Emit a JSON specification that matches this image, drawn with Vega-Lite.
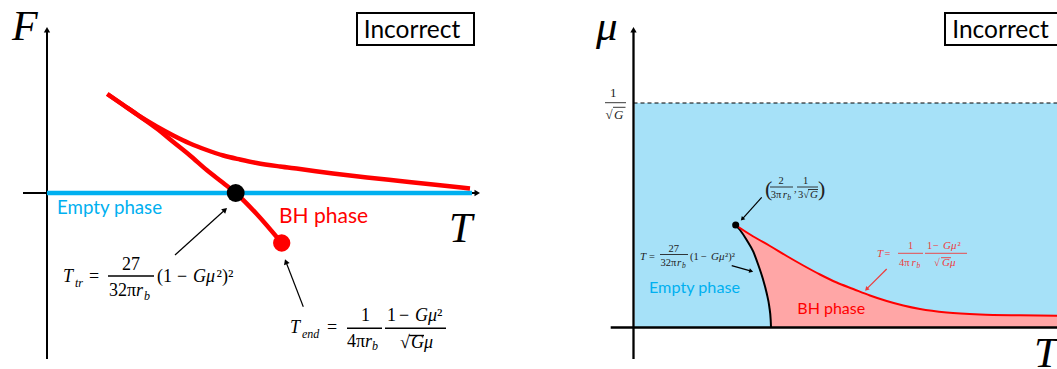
{
  "$schema": "https://vega.github.io/schema/vega-lite/v6.json",
  "padding": 0,
  "background": "white",
  "spacing": 0,
  "bounds": "flush",
  "config": {"view": {"stroke": null}},
  "datasets": {
    "L_axes": [
      {"x": 0, "y": -3.32, "x2": 0, "y2": 3.26},
      {"x": -0.48, "y": 0, "x2": 8.56, "y2": 0}
    ],
    "L_headUp": [{"x": 0, "y": 3.265}],
    "L_headRight": [{"x": 8.605, "y": 0}],
    "L_blue": [{"x": 0, "y": 0, "x2": 8.5, "y2": 0}],
    "L_red": [
      {"branch": "upper", "x": 1.206, "y": 1.98},
      {"branch": "upper", "x": 1.526, "y": 1.76},
      {"branch": "upper", "x": 1.86, "y": 1.53},
      {"branch": "upper", "x": 2.194, "y": 1.33},
      {"branch": "upper", "x": 2.526, "y": 1.15},
      {"branch": "upper", "x": 2.86, "y": 0.99},
      {"branch": "upper", "x": 3.194, "y": 0.86},
      {"branch": "upper", "x": 3.526, "y": 0.75},
      {"branch": "upper", "x": 3.86, "y": 0.67},
      {"branch": "upper", "x": 4.194, "y": 0.6},
      {"branch": "upper", "x": 4.66, "y": 0.53},
      {"branch": "upper", "x": 5.06, "y": 0.48},
      {"branch": "upper", "x": 5.72, "y": 0.39},
      {"branch": "upper", "x": 6.4, "y": 0.31},
      {"branch": "upper", "x": 7.06, "y": 0.24},
      {"branch": "upper", "x": 7.72, "y": 0.17},
      {"branch": "upper", "x": 8.46, "y": 0.09},
      {"branch": "lower", "x": 1.206, "y": 1.98},
      {"branch": "lower", "x": 1.526, "y": 1.76},
      {"branch": "lower", "x": 1.86, "y": 1.53},
      {"branch": "lower", "x": 2.194, "y": 1.29},
      {"branch": "lower", "x": 2.526, "y": 1.02},
      {"branch": "lower", "x": 2.86, "y": 0.75},
      {"branch": "lower", "x": 3.194, "y": 0.46},
      {"branch": "lower", "x": 3.526, "y": 0.2},
      {"branch": "lower", "x": 3.774, "y": 0.0},
      {"branch": "lower", "x": 4.194, "y": -0.42},
      {"branch": "lower", "x": 4.694, "y": -1.0}
    ],
    "L_dotBlack": [{"x": 3.774, "y": 0}],
    "L_dotRed": [{"x": 4.694, "y": -1.0}],
    "L_arrows": [
      {"x": 2.56, "y": -1.24, "x2": 3.562, "y2": -0.334},
      {"x": 5.126, "y": -2.274, "x2": 4.778, "y2": -1.374}
    ],
    "L_head1": [{"x": 3.562, "y": -0.334}],
    "L_head2": [{"x": 4.778, "y": -1.374}],
    "L_big": [
      {"x": -0.7, "y": 3.06, "t": "F"},
      {"x": 8.04, "y": -0.98, "t": "T"}
    ],
    "L_empty": [{"x": 0.2, "y": -0.41, "t": "Empty phase"}],
    "L_bh": [{"x": 4.64, "y": -0.59, "t": "BH phase"}],
    "L_box": [{"x": 6.2, "x2": 8.54, "y": 2.96, "y2": 3.6}],
    "L_inc": [{"x": 7.3, "y": 3.11, "t": "Incorrect"}],
    "L_fIt": [
      {"x": 0.32, "y": -1.78, "t": "T"},
      {"x": 1.78, "y": -2.06, "t": "r"},
      {"x": 2.92, "y": -1.78, "t": "Gμ"},
      {"x": 4.86, "y": -2.8, "t": "T"},
      {"x": 6.36, "y": -3.07, "t": "r"},
      {"x": 7.36, "y": -2.56, "t": "Gμ"},
      {"x": 7.28, "y": -3.1, "t": "Gμ"}
    ],
    "L_fSub": [
      {"x": 0.56, "y": -1.87, "t": "tr"},
      {"x": 1.94, "y": -2.14, "t": "b"},
      {"x": 5.1, "y": -2.89, "t": "end"},
      {"x": 6.5, "y": -3.14, "t": "b"}
    ],
    "L_fUp": [
      {"x": 0.84, "y": -1.78, "t": "="},
      {"x": 1.5, "y": -1.54, "t": "27"},
      {"x": 1.24, "y": -2.06, "t": "32π"},
      {"x": 2.2, "y": -1.78, "t": "(1"},
      {"x": 2.6, "y": -1.78, "t": "−"},
      {"x": 3.39, "y": -1.78, "t": "²)²"},
      {"x": 5.6, "y": -2.8, "t": "="},
      {"x": 6.28, "y": -2.56, "t": "1"},
      {"x": 6.0, "y": -3.07, "t": "4π"},
      {"x": 6.8, "y": -2.56, "t": "1"},
      {"x": 7.04, "y": -2.56, "t": "−"},
      {"x": 7.8, "y": -2.56, "t": "²"},
      {"x": 7.06, "y": -3.1, "t": "√"}
    ],
    "L_fBars": [
      {"x": 1.22, "x2": 2.14, "y": -1.66, "y2": -1.66},
      {"x": 6.0, "x2": 6.7, "y": -2.706, "y2": -2.706},
      {"x": 6.76, "x2": 7.98, "y": -2.706, "y2": -2.706},
      {"x": 7.24, "x2": 7.54, "y": -2.85, "y2": -2.85}
    ],
    "R_blue": [{"x": 0.02, "x2": 9, "y": 0, "y2": 4.49}],
    "R_pink": [
      {"x": 2.044, "y": 2.05, "y2": 2.05},
      {"x": 2.13, "y": 1.99, "y2": 1.95},
      {"x": 2.264, "y": 1.904, "y2": 1.75},
      {"x": 2.396, "y": 1.82, "y2": 1.516},
      {"x": 2.496, "y": 1.76, "y2": 1.25},
      {"x": 2.584, "y": 1.706, "y2": 0.984},
      {"x": 2.664, "y": 1.666, "y2": 0.684},
      {"x": 2.716, "y": 1.636, "y2": 0.416},
      {"x": 2.744, "y": 1.622, "y2": 0.15},
      {"x": 2.75, "y": 1.618, "y2": 0},
      {"x": 3.064, "y": 1.43, "y2": 0},
      {"x": 3.396, "y": 1.24, "y2": 0},
      {"x": 3.73, "y": 1.06, "y2": 0},
      {"x": 4.064, "y": 0.9, "y2": 0},
      {"x": 4.396, "y": 0.77, "y2": 0},
      {"x": 4.73, "y": 0.64, "y2": 0},
      {"x": 5.064, "y": 0.53, "y2": 0},
      {"x": 5.396, "y": 0.44, "y2": 0},
      {"x": 5.73, "y": 0.37, "y2": 0},
      {"x": 6.264, "y": 0.3, "y2": 0},
      {"x": 6.93, "y": 0.26, "y2": 0},
      {"x": 7.73, "y": 0.244, "y2": 0},
      {"x": 8.53, "y": 0.236, "y2": 0}
    ],
    "R_red": [
      {"x": 2.044, "y": 2.05},
      {"x": 2.13, "y": 1.99},
      {"x": 2.396, "y": 1.82},
      {"x": 2.73, "y": 1.63},
      {"x": 3.064, "y": 1.43},
      {"x": 3.396, "y": 1.24},
      {"x": 3.73, "y": 1.06},
      {"x": 4.064, "y": 0.9},
      {"x": 4.396, "y": 0.77},
      {"x": 4.73, "y": 0.64},
      {"x": 5.064, "y": 0.53},
      {"x": 5.396, "y": 0.44},
      {"x": 5.73, "y": 0.37},
      {"x": 6.264, "y": 0.3},
      {"x": 6.93, "y": 0.26},
      {"x": 7.73, "y": 0.244},
      {"x": 8.53, "y": 0.236}
    ],
    "R_black": [
      {"x": 2.044, "y": 2.05},
      {"x": 2.13, "y": 1.95},
      {"x": 2.264, "y": 1.75},
      {"x": 2.396, "y": 1.516},
      {"x": 2.496, "y": 1.25},
      {"x": 2.584, "y": 0.984},
      {"x": 2.664, "y": 0.684},
      {"x": 2.716, "y": 0.416},
      {"x": 2.744, "y": 0.15},
      {"x": 2.75, "y": 0}
    ],
    "R_dash": [{"x": 0, "x2": 9, "y": 4.49, "y2": 4.49}],
    "R_axes": [
      {"x": 0, "x2": 0, "y": -0.63, "y2": 5.93},
      {"x": -0.456, "x2": 9, "y": 0, "y2": 0}
    ],
    "R_head": [{"x": 0, "y": 5.956}],
    "R_dot": [{"x": 2.044, "y": 2.05}],
    "R_big": [
      {"x": -0.75, "y": 5.75, "t": "μ"},
      {"x": 8.01, "y": -0.79, "t": "T"}
    ],
    "R_empty": [{"x": 0.31, "y": 0.696, "t": "Empty phase"}],
    "R_bh": [{"x": 3.276, "y": 0.27, "t": "BH phase"}],
    "R_box": [{"x": 6.23, "x2": 8.6, "y": 5.65, "y2": 6.29}],
    "R_inc": [{"x": 7.34, "y": 5.8, "t": "Incorrect"}],
    "R_fIt": [
      {"x": 0.13, "y": 1.36, "t": "T"},
      {"x": 0.87, "y": 1.23, "t": "r"},
      {"x": 1.55, "y": 1.36, "t": "Gμ"},
      {"x": 2.984, "y": 2.6, "t": "r"},
      {"x": 3.53, "y": 2.6, "t": "G"}
    ],
    "R_fSub": [
      {"x": 0.97, "y": 1.19, "t": "b"},
      {"x": 3.076, "y": 2.56, "t": "b"}
    ],
    "R_fUp": [
      {"x": 0.31, "y": 1.36, "t": "="},
      {"x": 0.7, "y": 1.52, "t": "27"},
      {"x": 0.54, "y": 1.23, "t": "32π"},
      {"x": 1.13, "y": 1.36, "t": "(1"},
      {"x": 1.35, "y": 1.36, "t": "−"},
      {"x": 1.83, "y": 1.36, "t": "²)²"},
      {"x": 2.9, "y": 2.87, "t": "2"},
      {"x": 2.744, "y": 2.6, "t": "3π"},
      {"x": 3.21, "y": 2.71, "t": ","},
      {"x": 3.39, "y": 2.87, "t": "1"},
      {"x": 3.29, "y": 2.6, "t": "3√"}
    ],
    "R_paren": [
      {"x": 2.63, "y": 2.63, "t": "("},
      {"x": 3.69, "y": 2.63, "t": ")"}
    ],
    "R_fBars": [
      {"x": 0.53, "x2": 1.09, "y": 1.46, "y2": 1.46},
      {"x": 2.73, "x2": 3.19, "y": 2.81, "y2": 2.81},
      {"x": 3.27, "x2": 3.69, "y": 2.81, "y2": 2.81},
      {"x": 3.49, "x2": 3.69, "y": 2.76, "y2": 2.76},
      {"x": -0.57, "x2": -0.15, "y": 4.496, "y2": 4.496},
      {"x": -0.41, "x2": -0.16, "y": 4.404, "y2": 4.404}
    ],
    "R_gUp": [
      {"x": -0.47, "y": 4.61, "t": "1"},
      {"x": -0.56, "y": 4.164, "t": "√"}
    ],
    "R_gIt": [{"x": -0.39, "y": 4.164, "t": "G"}],
    "R_rIt": [
      {"x": 4.87, "y": 1.41, "t": "T"},
      {"x": 5.56, "y": 1.23, "t": "r"},
      {"x": 6.19, "y": 1.564, "t": "Gμ"},
      {"x": 6.17, "y": 1.23, "t": "Gμ"}
    ],
    "R_rSub": [{"x": 5.66, "y": 1.19, "t": "b"}],
    "R_rUp": [
      {"x": 5.02, "y": 1.41, "t": "="},
      {"x": 5.49, "y": 1.564, "t": "1"},
      {"x": 5.31, "y": 1.23, "t": "4π"},
      {"x": 5.87, "y": 1.564, "t": "1"},
      {"x": 5.99, "y": 1.564, "t": "−"},
      {"x": 6.48, "y": 1.564, "t": "²"},
      {"x": 6.01, "y": 1.23, "t": "√"}
    ],
    "R_rBars": [
      {"x": 5.29, "x2": 5.79, "y": 1.484, "y2": 1.484},
      {"x": 5.83, "x2": 6.67, "y": 1.484, "y2": 1.484},
      {"x": 6.15, "x2": 6.35, "y": 1.396, "y2": 1.396}
    ],
    "R_arrowsBlack": [
      {"x": 2.564, "y": 2.604, "x2": 2.174, "y2": 2.168},
      {"x": 1.964, "y": 1.236, "x2": 2.354, "y2": 1.128}
    ],
    "R_headA": [{"x": 2.174, "y": 2.168}],
    "R_headB": [{"x": 2.354, "y": 1.128}],
    "R_arrowRed": [{"x": 5.064, "y": 1.17, "x2": 4.66, "y2": 0.766}],
    "R_headRed": [{"x": 4.66, "y": 0.766}]
  },
  "hconcat": [
    {
      "width": 500,
      "height": 369,
      "encoding": {
        "x": {"field": "x", "type": "quantitative", "scale": {"domain": [-0.94, 9.06], "nice": false, "zero": false}, "axis": null},
        "y": {"field": "y", "type": "quantitative", "scale": {"domain": [-3.52, 3.86], "nice": false, "zero": false}, "axis": null}
      },
      "layer": [
        {"data": {"name": "L_axes"}, "mark": {"type": "rule", "color": "black", "strokeWidth": 2}, "encoding": {"x2": {"field": "x2"}, "y2": {"field": "y2"}}},
        {"data": {"name": "L_headUp"}, "mark": {"type": "point", "shape": "triangle-up", "filled": true, "size": 40, "color": "black", "opacity": 1}},
        {"data": {"name": "L_headRight"}, "mark": {"type": "point", "shape": "triangle-right", "filled": true, "size": 40, "color": "black", "opacity": 1}},
        {"data": {"name": "L_blue"}, "mark": {"type": "rule", "color": "#00b0f0", "strokeWidth": 4.5, "strokeCap": "butt"}, "encoding": {"x2": {"field": "x2"}, "y2": {"field": "y2"}}},
        {"data": {"name": "L_red"}, "mark": {"type": "line", "color": "#ff0000", "strokeWidth": 4.5, "interpolate": "monotone", "strokeCap": "butt"}, "encoding": {"detail": {"field": "branch"}}},
        {"data": {"name": "L_dotBlack"}, "mark": {"type": "point", "shape": "circle", "filled": true, "size": 320, "color": "black", "opacity": 1}},
        {"data": {"name": "L_dotRed"}, "mark": {"type": "point", "shape": "circle", "filled": true, "size": 300, "color": "#ff0000", "opacity": 1}},
        {"data": {"name": "L_arrows"}, "mark": {"type": "rule", "color": "black", "strokeWidth": 1.2}, "encoding": {"x2": {"field": "x2"}, "y2": {"field": "y2"}}},
        {"data": {"name": "L_head1"}, "mark": {"type": "point", "shape": "triangle-up", "filled": true, "size": 36, "angle": 48, "color": "black", "opacity": 1}},
        {"data": {"name": "L_head2"}, "mark": {"type": "point", "shape": "triangle-up", "filled": true, "size": 36, "angle": 339, "color": "black", "opacity": 1}},
        {"data": {"name": "L_big"}, "mark": {"type": "text", "font": "Liberation Serif", "fontStyle": "italic", "fontSize": 42, "align": "left", "baseline": "alphabetic", "color": "black"}, "encoding": {"text": {"field": "t"}}},
        {"data": {"name": "L_empty"}, "mark": {"type": "text", "font": "Lato", "fontSize": 18.7, "align": "left", "baseline": "alphabetic", "color": "#00b0f0"}, "encoding": {"text": {"field": "t"}}},
        {"data": {"name": "L_bh"}, "mark": {"type": "text", "font": "Lato", "fontSize": 21, "align": "left", "baseline": "alphabetic", "color": "#ff0000"}, "encoding": {"text": {"field": "t"}}},
        {"data": {"name": "L_box"}, "mark": {"type": "rect", "fill": "white", "stroke": "black", "strokeWidth": 2}, "encoding": {"x2": {"field": "x2"}, "y2": {"field": "y2"}}},
        {"data": {"name": "L_inc"}, "mark": {"type": "text", "font": "Lato", "fontSize": 24.5, "align": "center", "baseline": "alphabetic", "color": "black"}, "encoding": {"text": {"field": "t"}}},
        {"data": {"name": "L_fIt"}, "mark": {"type": "text", "font": "Liberation Serif", "fontStyle": "italic", "fontSize": 18, "align": "left", "baseline": "alphabetic", "color": "black"}, "encoding": {"text": {"field": "t"}}},
        {"data": {"name": "L_fSub"}, "mark": {"type": "text", "font": "Liberation Serif", "fontStyle": "italic", "fontSize": 12, "align": "left", "baseline": "alphabetic", "color": "black"}, "encoding": {"text": {"field": "t"}}},
        {"data": {"name": "L_fUp"}, "mark": {"type": "text", "font": "Liberation Serif", "fontSize": 18, "align": "left", "baseline": "alphabetic", "color": "black"}, "encoding": {"text": {"field": "t"}}},
        {"data": {"name": "L_fBars"}, "mark": {"type": "rule", "color": "black", "strokeWidth": 1.4}, "encoding": {"x2": {"field": "x2"}, "y2": {"field": "y2"}}}
      ]
    },
    {
      "width": 557,
      "height": 369,
      "encoding": {
        "x": {"field": "x", "type": "quantitative", "scale": {"domain": [-2.67, 8.47], "nice": false, "zero": false}, "axis": null},
        "y": {"field": "y", "type": "quantitative", "scale": {"domain": [-0.83, 6.55], "nice": false, "zero": false}, "axis": null}
      },
      "layer": [
        {"data": {"name": "R_blue"}, "mark": {"type": "rect", "fill": "#a6e1f8", "clip": true}, "encoding": {"x2": {"field": "x2"}, "y2": {"field": "y2"}}},
        {"data": {"name": "R_pink"}, "mark": {"type": "area", "fill": "#ffa6a6", "interpolate": "monotone", "clip": true}, "encoding": {"y2": {"field": "y2"}}},
        {"data": {"name": "R_dash"}, "mark": {"type": "rule", "color": "black", "strokeWidth": 1.1, "strokeDash": [4, 3], "clip": true}, "encoding": {"x2": {"field": "x2"}, "y2": {"field": "y2"}}},
        {"data": {"name": "R_black"}, "mark": {"type": "line", "color": "black", "strokeWidth": 2, "interpolate": "monotone"}, "encoding": {}},
        {"data": {"name": "R_red"}, "mark": {"type": "line", "color": "#ff0000", "strokeWidth": 2, "interpolate": "monotone", "clip": true}, "encoding": {}},
        {"data": {"name": "R_axes"}, "mark": {"type": "rule", "color": "black", "strokeWidth": 2.3, "clip": true}, "encoding": {"x2": {"field": "x2"}, "y2": {"field": "y2"}}},
        {"data": {"name": "R_head"}, "mark": {"type": "point", "shape": "triangle-up", "filled": true, "size": 40, "color": "black", "opacity": 1}},
        {"data": {"name": "R_dot"}, "mark": {"type": "point", "shape": "circle", "filled": true, "size": 50, "color": "black", "opacity": 1}},
        {"data": {"name": "R_big"}, "mark": {"type": "text", "font": "Liberation Serif", "fontStyle": "italic", "fontSize": 43, "align": "left", "baseline": "alphabetic", "color": "black", "clip": true}, "encoding": {"text": {"field": "t"}}},
        {"data": {"name": "R_empty"}, "mark": {"type": "text", "font": "Lato", "fontSize": 16.2, "align": "left", "baseline": "alphabetic", "color": "#00b0f0"}, "encoding": {"text": {"field": "t"}}},
        {"data": {"name": "R_bh"}, "mark": {"type": "text", "font": "Lato", "fontSize": 16, "align": "left", "baseline": "alphabetic", "color": "#ff0000"}, "encoding": {"text": {"field": "t"}}},
        {"data": {"name": "R_box"}, "mark": {"type": "rect", "fill": "white", "stroke": "black", "strokeWidth": 2, "clip": true}, "encoding": {"x2": {"field": "x2"}, "y2": {"field": "y2"}}},
        {"data": {"name": "R_inc"}, "mark": {"type": "text", "font": "Lato", "fontSize": 24.5, "align": "center", "baseline": "alphabetic", "color": "black", "clip": true}, "encoding": {"text": {"field": "t"}}},
        {"data": {"name": "R_fIt"}, "mark": {"type": "text", "font": "Liberation Serif", "fontStyle": "italic", "fontSize": 11, "align": "left", "baseline": "alphabetic", "color": "#222222"}, "encoding": {"text": {"field": "t"}}},
        {"data": {"name": "R_fSub"}, "mark": {"type": "text", "font": "Liberation Serif", "fontStyle": "italic", "fontSize": 7.5, "align": "left", "baseline": "alphabetic", "color": "#222222"}, "encoding": {"text": {"field": "t"}}},
        {"data": {"name": "R_fUp"}, "mark": {"type": "text", "font": "Liberation Serif", "fontSize": 10.5, "align": "left", "baseline": "alphabetic", "color": "#222222"}, "encoding": {"text": {"field": "t"}}},
        {"data": {"name": "R_paren"}, "mark": {"type": "text", "font": "Liberation Serif", "fontSize": 22, "align": "left", "baseline": "alphabetic", "color": "#222222"}, "encoding": {"text": {"field": "t"}}},
        {"data": {"name": "R_gUp"}, "mark": {"type": "text", "font": "Liberation Serif", "fontSize": 13, "align": "left", "baseline": "alphabetic", "color": "#222222"}, "encoding": {"text": {"field": "t"}}},
        {"data": {"name": "R_gIt"}, "mark": {"type": "text", "font": "Liberation Serif", "fontStyle": "italic", "fontSize": 13, "align": "left", "baseline": "alphabetic", "color": "#222222"}, "encoding": {"text": {"field": "t"}}},
        {"data": {"name": "R_fBars"}, "mark": {"type": "rule", "color": "#222222", "strokeWidth": 0.9}, "encoding": {"x2": {"field": "x2"}, "y2": {"field": "y2"}}},
        {"data": {"name": "R_rIt"}, "mark": {"type": "text", "font": "Liberation Serif", "fontStyle": "italic", "fontSize": 11, "align": "left", "baseline": "alphabetic", "color": "#ee3b3b"}, "encoding": {"text": {"field": "t"}}},
        {"data": {"name": "R_rSub"}, "mark": {"type": "text", "font": "Liberation Serif", "fontStyle": "italic", "fontSize": 7.5, "align": "left", "baseline": "alphabetic", "color": "#ee3b3b"}, "encoding": {"text": {"field": "t"}}},
        {"data": {"name": "R_rUp"}, "mark": {"type": "text", "font": "Liberation Serif", "fontSize": 10.5, "align": "left", "baseline": "alphabetic", "color": "#ee3b3b"}, "encoding": {"text": {"field": "t"}}},
        {"data": {"name": "R_rBars"}, "mark": {"type": "rule", "color": "#ee3b3b", "strokeWidth": 0.9}, "encoding": {"x2": {"field": "x2"}, "y2": {"field": "y2"}}},
        {"data": {"name": "R_arrowsBlack"}, "mark": {"type": "rule", "color": "black", "strokeWidth": 1.2}, "encoding": {"x2": {"field": "x2"}, "y2": {"field": "y2"}}},
        {"data": {"name": "R_headA"}, "mark": {"type": "point", "shape": "triangle-up", "filled": true, "size": 22, "angle": 222, "color": "black", "opacity": 1}},
        {"data": {"name": "R_headB"}, "mark": {"type": "point", "shape": "triangle-up", "filled": true, "size": 22, "angle": 105, "color": "black", "opacity": 1}},
        {"data": {"name": "R_arrowRed"}, "mark": {"type": "rule", "color": "#ee3b3b", "strokeWidth": 1.2}, "encoding": {"x2": {"field": "x2"}, "y2": {"field": "y2"}}},
        {"data": {"name": "R_headRed"}, "mark": {"type": "point", "shape": "triangle-up", "filled": true, "size": 22, "angle": 225, "color": "#ee3b3b", "opacity": 1}}
      ]
    }
  ]
}
